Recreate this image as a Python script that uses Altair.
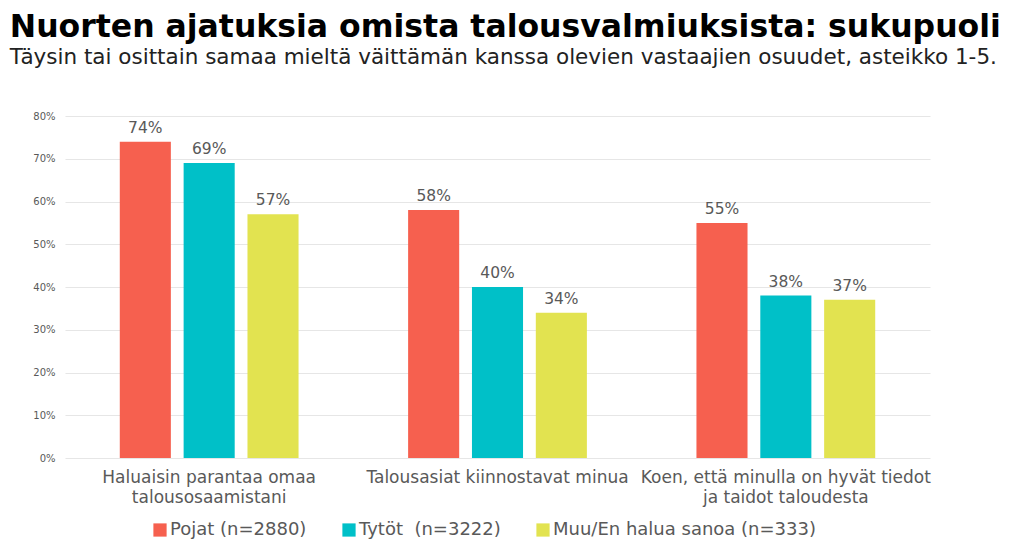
import altair as alt
import pandas as pd

categories = [
    "Haluaisin parantaa omaa talousosaamistani",
    "Talousasiat kiinnostavat minua",
    "Koen, että minulla on hyvät tiedot ja taidot taloudesta",
]
groups = ["Pojat (n=2880)", "Tytöt\u00a0 (n=3222)", "Muu/En halua sanoa (n=333)"]
pojat = [0.74, 0.58, 0.55]
tytot = [0.69, 0.40, 0.38]
muu = [0.57, 0.34, 0.37]
colors = ["#F6604F", "#00C0C8", "#E2E350"]

rows = []
for i, c in enumerate(categories):
    for g, vals in zip(groups, [pojat, tytot, muu]):
        rows.append({"kategoria": c, "ryhma": g, "arvo": vals[i]})
df = pd.DataFrame(rows)

label_expr = (
    "datum.value == 'Haluaisin parantaa omaa talousosaamistani' ? ['Haluaisin parantaa omaa', 'talousosaamistani'] : "
    "datum.value == 'Koen, että minulla on hyvät tiedot ja taidot taloudesta' ? ['Koen, että minulla on hyvät tiedot', 'ja taidot taloudesta'] : datum.value"
)

FONT = "DejaVu Sans"
GRAY = "#595959"

base = alt.Chart(df).encode(
    x=alt.X(
        "kategoria:N",
        sort=categories,
        title=None,
        scale=alt.Scale(paddingInner=0.38, paddingOuter=0.19),
        axis=alt.Axis(
            labelAngle=0,
            labelExpr=label_expr,
            labelFontSize=17,
            labelColor=GRAY,
            labelFont=FONT,
            labelPadding=11,
            labelLimit=400,
            labelLineHeight=20,
            ticks=False,
            domain=False,
            grid=False,
        ),
    ),
    xOffset=alt.XOffset(
        "ryhma:N", sort=groups, scale=alt.Scale(paddingInner=0.2, paddingOuter=0)
    ),
    y=alt.Y(
        "arvo:Q",
        title=None,
        scale=alt.Scale(domain=[0, 0.8]),
        axis=alt.Axis(
            format=".0%",
            values=[0, 0.1, 0.2, 0.3, 0.4, 0.5, 0.6, 0.7, 0.8],
            labelFontSize=10,
            labelColor=GRAY,
            labelFont=FONT,
            labelPadding=10,
            ticks=False,
            domain=False,
            gridColor="#E6E6E6",
            gridWidth=1.2,
        ),
    ),
)

bars = base.mark_bar().encode(
    color=alt.Color(
        "ryhma:N",
        sort=groups,
        scale=alt.Scale(domain=groups, range=colors),
        legend=alt.Legend(
            title=None,
            orient="none",
            legendX=86,
            legendY=405,
            direction="horizontal",
            symbolType="square",
            symbolSize=175,
            symbolStrokeWidth=0,
            labelFontSize=18,
            labelColor=GRAY,
            labelFont=FONT,
            columnPadding=33,
            labelOffset=1,
            labelLimit=400,
        ),
    )
)

labels = base.mark_text(
    dy=-14, fontSize=15.5, color=GRAY, font=FONT
).encode(text=alt.Text("arvo:Q", format=".0%"))

chart = (
    alt.layer(bars, labels)
    .properties(
        width=865,
        height=342,
        autosize=alt.AutoSizeParams(type="none"),
        padding={"left": 57, "top": 108, "right": 86, "bottom": 81},
        title=alt.Title(
            "Nuorten ajatuksia omista talousvalmiuksista: sukupuoli",
            subtitle="Täysin tai osittain samaa mieltä väittämän kanssa olevien vastaajien osuudet, asteikko 1-5.",
            anchor="start",
            dx=-23,
            offset=43,
            font=FONT,
            fontSize=31.5,
            fontWeight=900,
            color="#000000",
            subtitleFont=FONT,
            subtitleFontSize=21.5,
            subtitleColor="#222222",
            subtitlePadding=3,
        ),
    )
    .configure_view(stroke=None)
)

chart.save("out.html", embed_options={"renderer": "svg", "actions": False})
